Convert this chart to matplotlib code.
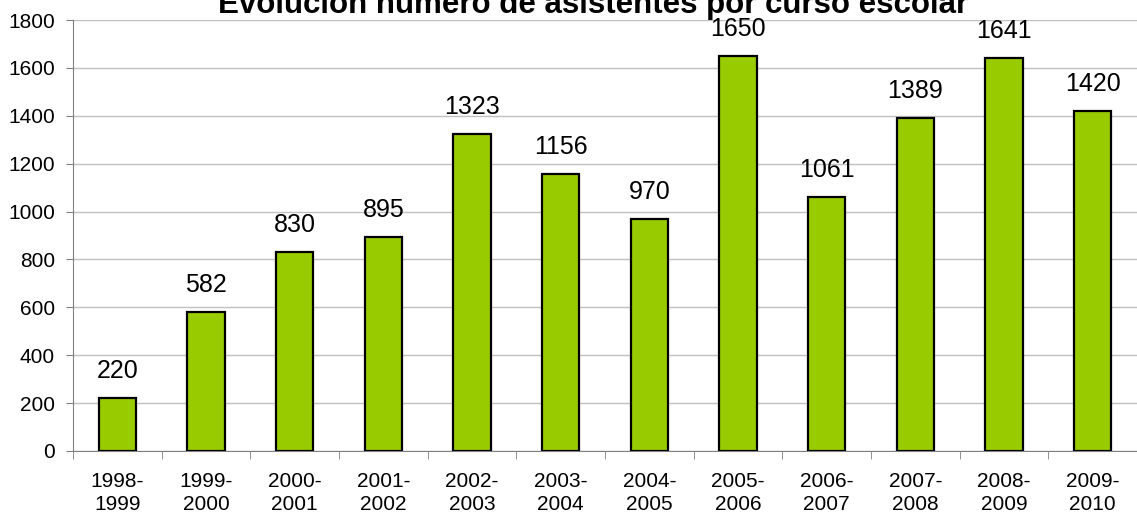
import matplotlib.pyplot as plt
import numpy as np

courses = ['1998-\n1999', '1999-\n2000', '2000-\n2001', '2001-\n2002', '2002-\n2003', '2003-\n2004',
           '2004-\n2005', '2005-\n2006', '2006-\n2007', '2007-\n2008', '2008-\n2009', '2009-\n2010']
attendees = [220, 582, 830, 895, 1323, 1156, 970, 1650, 1061, 1389, 1641, 1420]
title = 'Evolución número de asistentes por curso escolar'

plt.rcParams['font.family'] = ['Liberation Sans', 'DejaVu Sans']

W, H = 1137, 521
fig = plt.figure(figsize=(W / 100, H / 100), dpi=100)
ax = fig.add_axes([73 / W, (H - 451) / H, (W - 73) / W, (451 - 20) / H])

x = np.arange(len(courses))
ax.bar(x, attendees, width=0.42, color='#99CC00', edgecolor='black', linewidth=1.6, zorder=3)
for xi, v in zip(x, attendees):
    ax.annotate(str(v), (xi, v), xytext=(0, 14.5), textcoords='offset points',
                ha='center', va='baseline', fontsize=18, color='black')

ax.set_xlim(-0.5, len(courses) - 0.5)
ax.set_ylim(0, 1800)
ax.set_yticks(range(0, 1801, 200))
ax.tick_params(axis='y', labelsize=15, length=5, color='#808080', pad=8)
ax.set_xticks(x)
ax.set_xticklabels(courses, fontsize=15, linespacing=1.25)
ax.tick_params(axis='x', length=0, pad=15)
ax.set_xticks(np.arange(-0.5, len(courses)), minor=True)
ax.tick_params(axis='x', which='minor', length=6, color='#808080')
ax.yaxis.grid(True, color='#c0c0c0', linewidth=1, zorder=0)
for s in ['top', 'right']:
    ax.spines[s].set_visible(False)
ax.spines['left'].set_color('#808080')
ax.spines['bottom'].set_color('#808080')

fig.text(593 / W, 1 - 13 / H, title, ha='center', va='baseline', fontsize=22.5, fontweight='bold')

fig.savefig('out.png', dpi=100)
